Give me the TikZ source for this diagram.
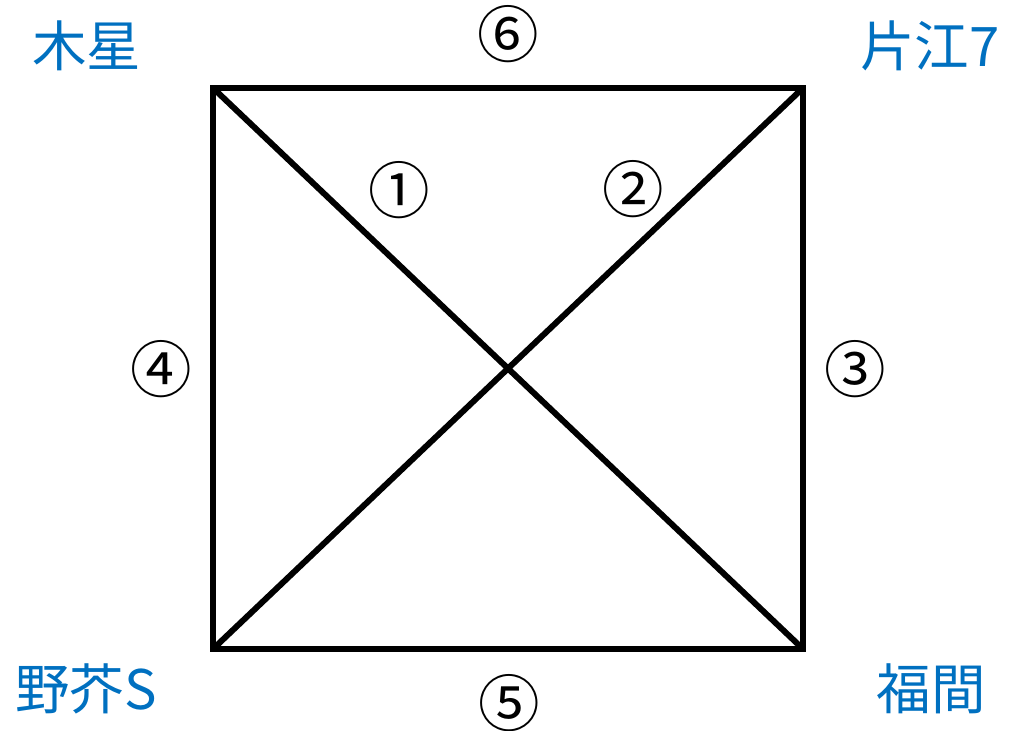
\documentclass[tikz,border=0pt]{standalone}
\usepackage{fontspec}
\newfontfamily\jpfont{Noto Sans CJK JP}
\usetikzlibrary{arrows.meta}
\definecolor{stnblue}{RGB}{0,112,192}
\tikzset{
  stn/.style={font=\jpfont\fontsize{15.5}{16}\selectfont,text=stnblue,inner sep=0pt},
  num/.style={font=\jpfont\fontsize{17.5}{18}\selectfont,inner sep=0pt},
  edge/.style={line width=1.7pt}
}

\begin{document}
\begin{tikzpicture}[x=0.01cm,y=-0.01cm]
  \useasboundingbox (0,0) rectangle (1009,731);
  \coordinate (tl) at (213,88);
  \coordinate (tr) at (803,88);
  \coordinate (bl) at (213,649);
  \coordinate (br) at (803,649);
  % square and diagonals
  \draw[edge] (tl) -- (tr) -- (br) -- (bl) -- cycle;
  \draw[edge] (tl) -- (br);
  \draw[edge] (bl) -- (tr);
  % stations
  \node[stn] (mokusei) at (87,46){木星};
  \node[stn] (katae) at (930,46){片江7};
  \node[stn] (noke) at (86,689){野芥S};
  \node[stn] (fukuma) at (931,689){福間};
  % routes
  \node[num] (r1) at (399,190){①};
  \node[num] (r2) at (633,189){②};
  \node[num] (r3) at (855,369){③};
  \node[num] (r4) at (161,369){④};
  \node[num] (r5) at (509,703){⑤};
  \node[num] (r6) at (508,34){⑥};
\end{tikzpicture}
\end{document}
